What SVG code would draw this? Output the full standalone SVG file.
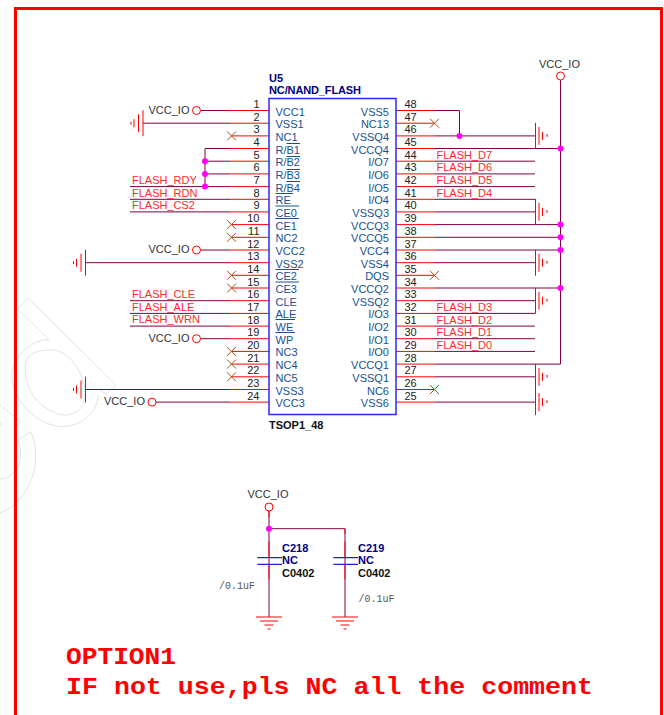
<svg xmlns="http://www.w3.org/2000/svg" width="664" height="715" viewBox="0 0 664 715">
<style>
text{font-family:"Liberation Sans",Arial,sans-serif;font-size:11px}
.pl{fill:#1a5090}.num{fill:#222}.sig{fill:#ff2a2a}.pw{fill:#333}
.tb{font-weight:bold;fill:#00007f}.tk{font-weight:bold;fill:#111}
.end{text-anchor:end}
.ovl{fill:none;stroke:#1a5090;stroke-width:1}
.val{font-family:"Liberation Mono",monospace;font-size:10px;fill:#555}
.note{font-family:"Liberation Mono",monospace;font-weight:bold;font-size:24px;fill:#ff0000}
.red{fill:none;stroke:#ff0000;stroke-width:1}
.wire{fill:none;stroke:#800040;stroke-width:1}
.x{fill:none;stroke:#a0561e;stroke-width:1}
.j{fill:#ff00ff}
.port{fill:#fff;stroke:#ff0000;stroke-width:1}
.wm{fill:none;stroke:#e2e2e2;stroke-width:1}
.cap{fill:none;stroke:#2020d0;stroke-width:1.2}
</style>
<defs>
<g id="gl"><path class="red" d="M0-13V13M-4.500-9V9M-9-4V4M-12-1.500V1.500"/></g>
<g id="gr"><path class="red" d="M0-13V13M3.500-9V9M7-4V4M11.500-2V1"/></g>
<g id="gd"><path class="red" d="M-13 0H13M-9 4H9M-4.500 8H4.500M-1.500 12H1.500"/></g>
<path id="nc" class="x" d="M-4.500-4.500L4.500 4.500M-4.500 4.500L4.500-4.500"/>
</defs>
<g id="watermark">
<path class="wm" d="M49 340L17.700 309L28.300 298.300L115.700 385L106 394.300L100 390M49 340C33 338 11.700 357 11.700 377C13 403 40 426.700 63 426.700C87 425 98 408 98 395M25 368C25 353 37 350 53 350C67 350 85 372 85 393C85 410 75 415 63 415C40 411 25 390 25 368Z"/>
<path class="wm" d="M0 405L20.700 421.700L14 428.300M0 423L1.700 424L0 426M0 512.700C10 510 22 500 30 483C38 465 37 445 30.700 431.700L18.300 440C22 452 22 465 13.300 473C9 477 4 479 0 479"/>
</g>
<g id="frame"><path fill="none" stroke="#ff0000" stroke-width="3" d="M15.500 715V8.500H661.500V715"/></g>
<g id="connectors">
<path class="red" d="M230 110.500H269M230 123.200H269M231 135.900H269M230 148.500H269M230 161.200H269M230 173.900H269M230 186.600H269M230 199.300H269M230 211.900H269M231 224.600H269M231 237.300H269M230 250H269M230 262.700H269M231 275.300H269M231 288H269M230 300.700H269M230 313.400H269M230 326.100H269M230 338.700H269M231 351.400H269M231 364.100H269M231 376.800H269M230 389.500H269M230 402.100H269"/>
<path class="red" d="M396 110.500H435M396 123.200H434M396 135.900H435M396 148.500H435M396 161.200H435M396 173.900H435M396 186.600H435M396 199.300H435M396 211.900H435M396 224.600H435M396 237.300H435M396 250H435M396 262.700H435M396 275.300H434M396 288H435M396 300.700H435M396 313.400H435M396 326.100H435M396 338.700H435M396 351.400H435M396 364.100H435M396 376.800H435M396 389.500H434M396 402.100H435"/>
<path class="wire" d="M200.500 110.500H230M143 123.200H230M205 148.500H230M205 161.200H230M205 173.900H230M130 186.600H230M130 199.300H230M130 211.900H230M205 148.500V186.600M200.500 250H230M85 262.700H230M130 300.700H230M130 313.400H230M130 326.100H230M200.500 338.700H230M85 389.500H230M156 402.100H230"/>
<path class="wire" d="M435 110.500H459.500V135.900M435 135.900H535M435 148.500H560.500M435 161.200H535M435 173.900H535M435 186.600H535M435 199.300H535M435 211.900H535M435 224.600H560.500M435 237.300H560.500M435 250H560.500M435 262.700H535M435 288H560.500M435 300.700H535M435 313.400H535M435 326.100H535M435 338.700H535M435 351.400H535M435 364.100H560.500M435 376.800H535M435 402.100H535M560.500 80V364.100"/>
<path class="wire" d="M269 511V617M345 528.700V617M269 528.700H345"/>
<path class="red" d="M269 511V517M269 541.700V557.700M269 564.300V579.300M345 528.700V534M345 541.700V557.700M345 564.300V579.300"/>
</g>
<g id="junctions">
<circle class="j" cx="205" cy="161.200" r="3"/><circle class="j" cx="205" cy="173.900" r="3"/><circle class="j" cx="205" cy="186.600" r="3"/>
<circle class="j" cx="459.500" cy="135.900" r="3"/>
<circle class="j" cx="560.500" cy="148.500" r="3"/><circle class="j" cx="560.500" cy="224.600" r="3"/><circle class="j" cx="560.500" cy="237.300" r="3"/><circle class="j" cx="560.500" cy="250" r="3"/><circle class="j" cx="560.500" cy="288" r="3"/>
<circle class="j" cx="269" cy="528.700" r="3"/>
</g>
<g id="no-connects">
<use href="#nc" x="231.500" y="135.900"/><use href="#nc" x="231.500" y="224.600"/><use href="#nc" x="231.500" y="237.300"/><use href="#nc" x="231.500" y="275.300"/><use href="#nc" x="231.500" y="288"/><use href="#nc" x="231.500" y="351.400"/><use href="#nc" x="231.500" y="364.100"/><use href="#nc" x="231.500" y="376.800"/>
<use href="#nc" x="434.500" y="123.200"/><use href="#nc" x="434.500" y="275.300"/><use href="#nc" x="434.500" y="389.500"/>
</g>
<g id="grounds">
<use href="#gl" x="143" y="123.200"/><use href="#gl" x="85.500" y="262.700"/><use href="#gl" x="85.500" y="389.500"/>
<use href="#gr" x="535.500" y="135.900"/><use href="#gr" x="535.500" y="211.900"/><use href="#gr" x="535.500" y="262.700"/><use href="#gr" x="535.500" y="300.700"/><use href="#gr" x="535.500" y="376.800"/><use href="#gr" x="535.500" y="402.100"/>
<use href="#gd" x="269" y="617"/><use href="#gd" x="345" y="617"/>
</g>
<g id="power-ports">
<circle class="port" cx="196.500" cy="110.500" r="4"/><circle class="port" cx="196.500" cy="250" r="4"/><circle class="port" cx="196.500" cy="338.700" r="4"/><circle class="port" cx="152" cy="402.100" r="4"/><circle class="port" cx="560.500" cy="76" r="4"/><circle class="port" cx="269" cy="507" r="4"/>
<text class="pw end" x="189.500" y="113.500">VCC_IO</text><text class="pw end" x="189.500" y="253">VCC_IO</text><text class="pw end" x="189.500" y="341.500">VCC_IO</text><text class="pw end" x="145" y="405">VCC_IO</text><text class="pw" x="539" y="68">VCC_IO</text><text class="pw" x="247.500" y="498">VCC_IO</text>
</g>
<g id="signals">
<text class="sig" x="132" y="184">FLASH_RDY</text><text class="sig" x="132" y="196.700">FLASH_RDN</text><text class="sig" x="132" y="209">FLASH_CS2</text><text class="sig" x="132" y="298">FLASH_CLE</text><text class="sig" x="132" y="310.700">FLASH_ALE</text><text class="sig" x="132" y="323">FLASH_WRN</text>
<text class="sig" x="436.500" y="158.700">FLASH_D7</text><text class="sig" x="436.500" y="171.400">FLASH_D6</text><text class="sig" x="436.500" y="184">FLASH_D5</text><text class="sig" x="436.500" y="196.700">FLASH_D4</text><text class="sig" x="436.500" y="310.900">FLASH_D3</text><text class="sig" x="436.500" y="323.600">FLASH_D2</text><text class="sig" x="436.500" y="336.200">FLASH_D1</text><text class="sig" x="436.500" y="348.900">FLASH_D0</text>
</g>
<g id="U5">
<rect x="269" y="98.500" width="127" height="316" fill="none" stroke="#2a2aff" stroke-width="1.500"/>
<text class="tb" x="269" y="82">U5</text><text class="tb" x="269" y="94" textLength="92">NC/NAND_FLASH</text><text class="tk" x="269" y="428.500">TSOP1_48</text>
<g class="num">
<text class="num end" x="259.500" y="108">1</text><text class="num end" x="259.500" y="120.700">2</text><text class="num end" x="259.500" y="133.400">3</text><text class="num end" x="259.500" y="146">4</text><text class="num end" x="259.500" y="158.700">5</text><text class="num end" x="259.500" y="171.400">6</text><text class="num end" x="259.500" y="184.100">7</text><text class="num end" x="259.500" y="196.800">8</text><text class="num end" x="259.500" y="209.400">9</text><text class="num end" x="259.500" y="222.100">10</text><text class="num end" x="259.500" y="234.800">11</text><text class="num end" x="259.500" y="247.500">12</text><text class="num end" x="259.500" y="260.200">13</text><text class="num end" x="259.500" y="272.800">14</text><text class="num end" x="259.500" y="285.500">15</text><text class="num end" x="259.500" y="298.200">16</text><text class="num end" x="259.500" y="310.900">17</text><text class="num end" x="259.500" y="323.600">18</text><text class="num end" x="259.500" y="336.200">19</text><text class="num end" x="259.500" y="348.900">20</text><text class="num end" x="259.500" y="361.600">21</text><text class="num end" x="259.500" y="374.300">22</text><text class="num end" x="259.500" y="387">23</text><text class="num end" x="259.500" y="399.600">24</text>
<text class="num" x="404.500" y="108">48</text><text class="num" x="404.500" y="120.700">47</text><text class="num" x="404.500" y="133.400">46</text><text class="num" x="404.500" y="146">45</text><text class="num" x="404.500" y="158.700">44</text><text class="num" x="404.500" y="171.400">43</text><text class="num" x="404.500" y="184.100">42</text><text class="num" x="404.500" y="196.800">41</text><text class="num" x="404.500" y="209.400">40</text><text class="num" x="404.500" y="222.100">39</text><text class="num" x="404.500" y="234.800">38</text><text class="num" x="404.500" y="247.500">37</text><text class="num" x="404.500" y="260.200">36</text><text class="num" x="404.500" y="272.800">35</text><text class="num" x="404.500" y="285.500">34</text><text class="num" x="404.500" y="298.200">33</text><text class="num" x="404.500" y="310.900">32</text><text class="num" x="404.500" y="323.600">31</text><text class="num" x="404.500" y="336.200">30</text><text class="num" x="404.500" y="348.900">29</text><text class="num" x="404.500" y="361.600">28</text><text class="num" x="404.500" y="374.300">27</text><text class="num" x="404.500" y="387">26</text><text class="num" x="404.500" y="399.600">25</text>
</g>
<path class="ovl" d="M286.500 143.500H300M286.500 156.500H300M286.500 169.500H300M286.500 181.500H300M275.500 193.500H293M275.500 206H299M275.500 218.500H299M275.500 269.500H299M275.500 282H299M275.500 319.500H295M275.500 332.500H295"/>
<text class="pl" x="275.500" y="115.500">VCC1</text><text class="pl" x="275.500" y="128.200">VSS1</text><text class="pl" x="275.500" y="140.900">NC1</text>
<text class="pl" x="275.500" y="153.500">R/B1</text><text class="pl" x="275.500" y="166.200">R/B2</text><text class="pl" x="275.500" y="178.900">R/B3</text><text class="pl" x="275.500" y="191.600">R/B4</text>
<text class="pl" x="275.500" y="204.300">RE</text><text class="pl" x="275.500" y="216.900">CE0</text><text class="pl" x="275.500" y="229.600">CE1</text><text class="pl" x="275.500" y="242.300">NC2</text><text class="pl" x="275.500" y="255">VCC2</text><text class="pl" x="275.500" y="267.700">VSS2</text>
<text class="pl" x="275.500" y="280.300">CE2</text><text class="pl" x="275.500" y="293">CE3</text><text class="pl" x="275.500" y="305.700">CLE</text><text class="pl" x="275.500" y="318.400">ALE</text><text class="pl" x="275.500" y="331.100">WE</text><text class="pl" x="275.500" y="343.700">WP</text><text class="pl" x="275.500" y="356.400">NC3</text><text class="pl" x="275.500" y="369.100">NC4</text><text class="pl" x="275.500" y="381.800">NC5</text><text class="pl" x="275.500" y="394.500">VSS3</text><text class="pl" x="275.500" y="407.100">VCC3</text>
<text class="pl end" x="389" y="115.500">VSS5</text><text class="pl end" x="389" y="128.200">NC13</text><text class="pl end" x="389" y="140.900">VSSQ4</text><text class="pl end" x="389" y="153.500">VCCQ4</text><text class="pl end" x="389" y="166.200">I/O7</text><text class="pl end" x="389" y="178.900">I/O6</text><text class="pl end" x="389" y="191.600">I/O5</text><text class="pl end" x="389" y="204.300">I/O4</text><text class="pl end" x="389" y="216.900">VSSQ3</text><text class="pl end" x="389" y="229.600">VCCQ3</text><text class="pl end" x="389" y="242.300">VCCQ5</text><text class="pl end" x="389" y="255">VCC4</text><text class="pl end" x="389" y="267.700">VSS4</text><text class="pl end" x="389" y="280.300">DQS</text><text class="pl end" x="389" y="293">VCCQ2</text><text class="pl end" x="389" y="305.700">VSSQ2</text><text class="pl end" x="389" y="318.400">I/O3</text><text class="pl end" x="389" y="331.100">I/O2</text><text class="pl end" x="389" y="343.700">I/O1</text><text class="pl end" x="389" y="356.400">I/O0</text><text class="pl end" x="389" y="369.100">VCCQ1</text><text class="pl end" x="389" y="381.800">VSSQ1</text><text class="pl end" x="389" y="394.500">NC6</text><text class="pl end" x="389" y="407.100">VSS6</text>
</g>
<g id="C218">
<path class="cap" d="M257.300 557.700H282M257.300 564.300H282"/>
<text class="tb" x="282" y="552">C218</text><text class="tb" x="282" y="564">NC</text><text class="tk" x="282" y="577">C0402</text><text class="val" x="219" y="589">/0.1uF</text>
</g>
<g id="C219">
<path class="cap" d="M333.300 557.700H358M333.300 564.300H358"/>
<text class="tb" x="358" y="552">C219</text><text class="tb" x="358" y="564">NC</text><text class="tk" x="358" y="577">C0402</text><text class="val" x="358.500" y="602">/0.1uF</text>
</g>
<g id="notes">
<text class="note" x="66" y="664" textLength="110" lengthAdjust="spacingAndGlyphs">OPTION1</text>
<text class="note" x="66" y="694" textLength="527" lengthAdjust="spacingAndGlyphs">IF not use,pls NC all the comment</text>
</g>
</svg>
